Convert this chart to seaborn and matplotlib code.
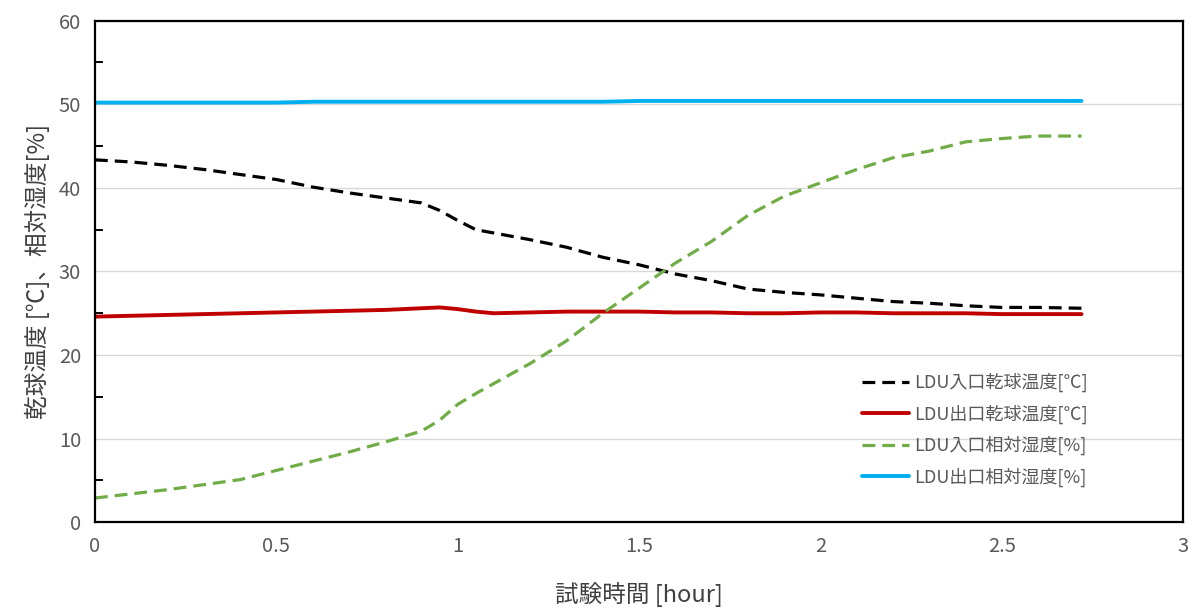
import pandas as pd
import seaborn as sns
import matplotlib.pyplot as plt
from matplotlib.ticker import MultipleLocator

# 試験時間 [hour]
time_h = [0, 0.1, 0.2, 0.3, 0.4, 0.5, 0.6, 0.7, 0.8, 0.9, 0.95, 1.0, 1.05, 1.1,
          1.2, 1.3, 1.4, 1.5, 1.6, 1.7, 1.8, 1.9, 2.0, 2.1, 2.2, 2.3, 2.4, 2.5,
          2.6, 2.72]

# LDU入口乾球温度[℃]
inlet_temp = [43.35, 43.1, 42.7, 42.2, 41.6, 41.0, 40.1, 39.4, 38.8, 38.2, 37.3,
              36.1, 35.0, 34.6, 33.8, 32.9, 31.7, 30.8, 29.7, 28.9, 27.9, 27.5,
              27.2, 26.8, 26.4, 26.2, 25.9, 25.7, 25.7, 25.6]
# LDU出口乾球温度[℃]
outlet_temp = [24.6, 24.7, 24.8, 24.9, 25.0, 25.1, 25.2, 25.3, 25.4, 25.6, 25.7,
               25.5, 25.2, 25.0, 25.1, 25.2, 25.2, 25.2, 25.1, 25.1, 25.0, 25.0,
               25.1, 25.1, 25.0, 25.0, 25.0, 24.9, 24.9, 24.9]
# LDU入口相対湿度[%]
inlet_rh = [2.9, 3.4, 3.9, 4.5, 5.1, 6.2, 7.3, 8.4, 9.6, 10.9, 12.2, 14.1, 15.4,
            16.6, 19.0, 21.7, 25.0, 28.0, 31.0, 33.6, 36.7, 39.0, 40.6, 42.2,
            43.6, 44.4, 45.5, 45.9, 46.2, 46.2]
# LDU出口相対湿度[%]
outlet_rh = [50.2, 50.2, 50.2, 50.2, 50.2, 50.2, 50.3, 50.3, 50.3, 50.3, 50.3,
             50.3, 50.3, 50.3, 50.3, 50.3, 50.3, 50.4, 50.4, 50.4, 50.4, 50.4,
             50.4, 50.4, 50.4, 50.4, 50.4, 50.4, 50.4, 50.4]

labels = ['LDU入口乾球温度[℃]', 'LDU出口乾球温度[℃]', 'LDU入口相対湿度[%]', 'LDU出口相対湿度[%]']

df = pd.DataFrame({'time': time_h,
                   labels[0]: inlet_temp,
                   labels[1]: outlet_temp,
                   labels[2]: inlet_rh,
                   labels[3]: outlet_rh})

sns.set_theme(style="white")
plt.rcParams['font.family'] = ['Noto Sans CJK JP', 'DejaVu Sans']

fig = plt.figure(figsize=(11.92, 6.08), dpi=100)
ax = fig.add_axes([0.0797, 0.141, 0.9128, 0.825])

styles = [('#000000', (0, (4, 2.2)), 2.3),
          ('#C00000', '-', 2.8),
          ('#70AD47', (0, (4, 2.2)), 2.3),
          ('#00B0F0', '-', 2.8)]
for name, (c, ls, lw) in zip(labels, styles):
    sns.lineplot(data=df, x='time', y=name, ax=ax, color=c, linestyle=ls,
                 linewidth=lw, label=name)

ax.set_xlim(0, 3)
ax.set_ylim(0, 60)
ax.set_xticks([0, 0.5, 1, 1.5, 2, 2.5, 3])
ax.set_xticklabels(['0', '0.5', '1', '1.5', '2', '2.5', '3'])
ax.yaxis.set_major_locator(MultipleLocator(10))
ax.yaxis.set_minor_locator(MultipleLocator(5))

ax.grid(axis='y', color='#D9D9D9', linewidth=1)
ax.set_axisbelow(True)
for sp in ax.spines.values():
    sp.set_color('black')
    sp.set_linewidth(1.6)

ax.tick_params(axis='both', which='major', direction='in', length=6, width=1.4,
               color='black', labelsize=14.5, labelcolor='#595959', pad=10)
ax.tick_params(axis='y', which='minor', direction='in', length=6, width=1.4,
               color='black', left=True)
ax.tick_params(axis='x', which='minor', bottom=False)

ax.set_xlabel('試験時間 [hour]', fontsize=17, color='#404040', labelpad=18)
ax.set_ylabel('乾球温度 [℃]、相対湿度[%]', fontsize=17, color='#404040', labelpad=6)

leg = ax.legend(loc='upper left', bbox_to_anchor=(0.69, 0.33), frameon=False,
                fontsize=13, handlelength=2.6, labelspacing=0.68, handletextpad=0.3)
for t in leg.get_texts():
    t.set_color('#595959')

plt.savefig('out.png', dpi=100)
